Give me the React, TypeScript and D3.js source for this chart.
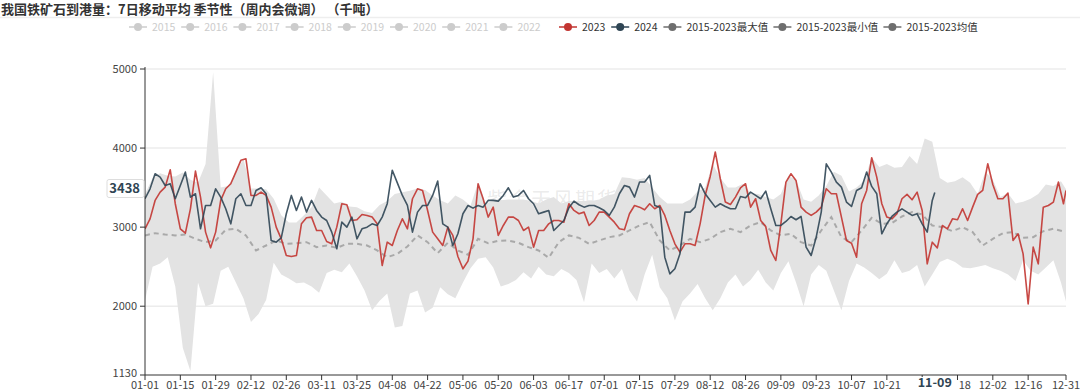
import React from 'react';
import * as d3 from 'd3';

// categories: every day of a leap year, shown as MM-DD
const categories: string[] = d3
  .timeDays(new Date(2024, 0, 1), new Date(2025, 0, 1))
  .map(d3.timeFormat('%m-%d'));

// day indices the series are sampled at
const sampleDays = (step: number, last: number) => {
  const out = d3.range(0, last + 1, step);
  if (out[out.length - 1] !== last) out.push(last);
  return out;
};

const days2023 = sampleDays(2, 365);
const days2024 = sampleDays(2, 313);
const daysBand = sampleDays(3, 365);
const daysMean = sampleDays(4, 364);

// 2023, every 2 days
const values2023 = [
  2979, 3105, 3338, 3443, 3506, 3726, 3296, 2979, 2924, 3232,
  3709, 3380, 2937, 2738, 2937, 3338, 3485, 3549, 3696, 3845,
  3865, 3401, 3401, 3443, 3401, 3253, 3000, 2852, 2641, 2629,
  2641, 3042, 3118, 3127, 2958, 2958, 2818, 2789, 3000, 3296,
  3283, 3084, 3093, 3160, 3148, 3127, 3042, 2515, 2810, 2768,
  2958, 3105, 2979, 3359, 3485, 3464, 3211, 2937, 2852, 2768,
  3000, 2895, 2629, 2473, 2570, 2852, 3549, 3359, 3127, 3253,
  2895, 3021, 3127, 3127, 3084, 2958, 3000, 2747, 2958, 2958,
  3042, 3084, 3084, 3063, 3296, 3211, 3169, 3190, 3021, 3084,
  3190, 3190, 3127, 3063, 2979, 2966, 3169, 3274, 3253, 3219,
  3296, 3232, 3274, 3148, 2958, 2789, 2684, 2789, 2789, 2768,
  3042, 3401, 3641, 3950, 3612, 3317, 3287, 3380, 3498, 3549,
  3253, 3359, 3084, 3008, 2705, 2578, 3042, 3570, 3675, 3591,
  3253, 3190, 3148, 3190, 3253, 3485, 3422, 3422, 3127, 2831,
  2797, 2620, 3296, 3464, 3878, 3633, 3296, 3127, 3105, 3169,
  3359, 3414, 3346, 3443, 3211, 2536, 2810, 2738, 3021, 2979,
  3105, 3093, 3232, 3084, 3253, 3414, 3464, 3802, 3540, 3359,
  3359, 3430, 2831, 2916, 2662, 2029, 2747, 2536, 3253, 3274,
  3317, 3570, 3296, 3464,
];

// 2024, every 2 days up to 11-09
const values2024 = [
  3359, 3485, 3675, 3633, 3527, 3549, 3359, 3527, 3696, 3380,
  3422, 2979, 3274, 3274, 3485, 3380, 3232, 3042, 3359, 3422,
  3274, 3274, 3464, 3498, 3422, 2831, 2810, 2865, 3169, 3401,
  3211, 3380, 3190, 3338, 3211, 3127, 3084, 2937, 2726, 3063,
  3000, 3127, 2852, 2979, 3000, 3042, 3021, 3127, 3296, 3720,
  3560, 3401, 3274, 2937, 3190, 3274, 3274, 3401, 3582, 3042,
  3000, 2768, 2916, 3169, 3274, 3240, 3274, 3253, 3338, 3338,
  3329, 3401, 3498, 3380, 3401, 3464, 3359, 3296, 3169, 3190,
  3211, 2958, 3021, 3084, 3245, 3329, 3283, 3253, 3274, 3274,
  3245, 3211, 3148, 3253, 3422, 3527, 3506, 3380, 3570, 3570,
  3654, 3274, 3253, 2620, 2409, 2473, 2662, 3190, 3190, 3253,
  3549, 3422, 3338, 3253, 3296, 3262, 3232, 3232, 3388, 3371,
  3443, 3401, 3359, 3456, 3232, 3021, 3021, 3072, 3135, 3093,
  3135, 2747, 2641, 2873, 3190, 3800, 3696, 3570, 3506, 3317,
  3262, 3464, 3498, 3696, 3515, 3422, 2916, 3042, 3135, 3190,
  3232, 3190, 3148, 3169, 3042, 2937, 3338, 3438,
];

// 2015-2023 max, every 3 days
const maxValues = [
  3420, 3620, 3680, 3650, 3640, 3690, 3600, 3560, 3800, 4960,
  3500, 3520, 3700, 3860, 3490, 3490, 3480, 3360, 3150, 3060,
  3060, 3150, 3250, 3500, 3400, 3300, 3320, 3260, 3250, 3200,
  3180, 3280, 3330, 3420, 3440, 3460, 3490, 3470, 3400, 3340,
  3300, 3400, 3350, 3270, 3560, 3300, 3330, 3340, 3350, 3350,
  3350, 3330, 3300, 3350, 3380, 3300, 3330, 3330, 3330, 3330,
  3350, 3400, 3420, 3630, 3620, 3600, 3620, 3500, 3380, 3300,
  3300, 3300, 3350, 3450, 3500, 3800, 3620, 3500, 3500, 3550,
  3430, 3420, 3380, 3350, 3420, 3650, 3600, 3350, 3320, 3400,
  3520, 3700, 3650, 3450, 3500, 3590, 3880, 3760, 3800, 3750,
  3760, 3900, 3800, 4120, 4080, 3620, 3560, 3580, 3630, 3560,
  3420, 3700, 3600, 3380, 3430, 3300, 3320, 3360, 3420, 3540,
  3520, 3580, 3480,
];

// 2015-2023 min, every 3 days
const minValues = [
  2072, 2500, 2540, 2620, 2250, 1470, 1180, 2300, 2000, 2030,
  2450, 2500, 2300, 2100, 1800, 1900, 2080, 2550, 2400, 2350,
  2290, 2300, 2250, 2170, 2420, 2460, 2430, 2540, 2380, 2200,
  1950, 2070, 2160, 1730, 1750, 2160, 2200, 1920, 1980, 2240,
  2150, 2100, 2300, 2480, 2600, 2620, 2490, 2250, 2280, 2330,
  2430, 2350, 2500, 2400, 2380, 2470, 2420, 2330, 2050, 2540,
  2420, 2470, 2350, 2470, 2200, 2060, 2400, 2650, 2240, 2100,
  1820, 2060, 2160, 2280, 2100, 1950, 2100, 2300, 2400, 2250,
  2330, 2460, 2300, 2200, 2420, 2570, 2300, 2000, 2400, 2520,
  2450, 2200, 1950, 2320, 2540, 2490, 2420, 2340, 2410, 2580,
  2420, 2450, 2520, 2250, 2400, 2560, 2600, 2560, 2490, 2480,
  2500, 2520, 2480, 2450, 2400, 2320, 2580, 2450, 2400, 2490,
  2580, 2300, 2060,
];

// 2015-2023 mean, every 4 days
const meanValues = [
  2895, 2924, 2907, 2895, 2907, 2852, 2810, 2831, 2966, 2979,
  2895, 2705, 2768, 2831, 2789, 2797, 2810, 2747, 2768, 2738,
  2789, 2789, 2768, 2705, 2620, 2662, 2755, 2895, 2810, 2671,
  2802, 2705, 2650, 2852, 2797, 2827, 2831, 2802, 2747, 2705,
  2612, 2810, 2895, 2865, 2789, 2831, 2873, 2895, 2958, 3021,
  3063, 2831, 2705, 2768, 2852, 2810, 2852, 2937, 2979, 2937,
  3021, 3063, 2958, 2895, 2916, 2810, 2768, 2958, 3127, 2873,
  2810, 2958, 3118, 3042, 3051, 3135, 3190, 3160, 3021, 3000,
  2949, 3000, 2937, 2768, 2852, 2924, 2937, 2865, 2873, 2949,
  2979, 2945,
];

const yTicks = [5000, 4000, 3000, 2000, 1130];
const xTickDays = [...d3.range(0, 351, 14), 365];
const pointerDay = 313;
const pointerValue = 3438;

const legendYears = ['2015', '2016', '2017', '2018', '2019', '2020', '2021', '2022'];
const legendActive = [
  { name: '2023', color: '#c23531' },
  { name: '2024', color: '#2f4554' },
  { name: '2015-2023最大值', color: '#6e6e6e' },
  { name: '2015-2023最小值', color: '#6e6e6e' },
  { name: '2015-2023均值', color: '#6e6e6e' },
];

const FONT = "'Noto Sans CJK SC', 'Noto Sans', sans-serif";

// rough text width for legend layout
const textWidth = (s: string) =>
  Array.from(s).reduce((w, c) => w + (/[0-9]/.test(c) ? 5.3 : c === '-' ? 3.6 : 11), 0);

export default function App() {
  const W = 1080;
  const H = 391;
  const left = 145;
  const right = 1066;
  const top = 69;
  const bottom = 375;

  const x = d3.scalePoint<string>().domain(categories).range([left, right]);
  const y = d3.scaleLinear().domain([1130, 5000]).range([bottom, top]);
  const px = (i: number) => x(categories[i]) as number;

  const pairs = (days: number[], vals: number[]) =>
    days.slice(0, vals.length).map((d, k) => [d, vals[k]] as [number, number]);

  const line = d3
    .line<[number, number]>()
    .x((d) => px(d[0]))
    .y((d) => y(d[1]));

  const band = daysBand.map((d, k) => [d, minValues[k], maxValues[k]] as [number, number, number]);
  const area = d3
    .area<[number, number, number]>()
    .x((d) => px(d[0]))
    .y0((d) => y(d[1]))
    .y1((d) => y(d[2]));

  // legend layout
  const legendItems: { name: string; color: string; text: string; x: number }[] = [];
  let lx = 129;
  legendYears.forEach((name) => {
    legendItems.push({ name, color: '#ccc', text: '#ccc', x: lx });
    lx += 23 + textWidth(name) + 8;
  });
  lx = 559;
  legendActive.forEach((it) => {
    legendItems.push({ name: it.name, color: it.color, text: '#333', x: lx });
    lx += 23 + textWidth(it.name) + 8;
  });

  const py = y(pointerValue) - 4;
  const pxp = px(pointerDay);
  const boxL = pxp - 19;
  const boxR = pxp + 19;

  // x labels: ones hidden under the pointer label are dropped, the one
  // partly under it shows only its visible tail (as in the source chart)
  const xLabels = xTickDays
    .map((d) => {
      const cx = px(d);
      const full = categories[d];
      const half = 13.5;
      if (cx - half >= boxL - 2 && cx + half <= boxR + 2) return null;
      if (cx - half < boxR && cx + half > boxR) {
        return { d, text: full.slice(3), x: cx + half, anchor: 'end' };
      }
      if (cx + half > boxL && cx - half < boxL) return null;
      return { d, text: full, x: cx, anchor: 'middle' };
    })
    .filter(Boolean) as { d: number; text: string; x: number; anchor: string }[];

  return (
    <svg
      width={W}
      height={H}
      style={{ position: 'fixed', left: 0, top: 0, background: '#fff' }}
      fontFamily={FONT}
    >
      <defs>
        <clipPath id="plot">
          <rect x={left} y={top - 10} width={right - left} height={bottom - top + 10} />
        </clipPath>
      </defs>

      <text x={1} y={13.5} fontSize={13} fontWeight="bold" fill="#333">
        我国铁矿石到港量：7日移动平均 季节性（周内会微调） （千吨）
      </text>
      <line x1={0} x2={W} y1={17.5} y2={17.5} stroke="#eee" strokeWidth={1.5} />

      {legendItems.map((it) => (
        <g key={it.name}>
          <line x1={it.x} x2={it.x + 18} y1={27} y2={27} stroke={it.color} strokeWidth={1.5} />
          <circle cx={it.x + 9} cy={27} r={4} fill={it.color} />
          <text x={it.x + 23} y={27} dy="0.35em" fontSize={10.5} fill={it.text}>
            {it.name}
          </text>
        </g>
      ))}

      {yTicks.slice(0, 4).map((t) => (
        <line key={t} x1={left} x2={right} y1={y(t)} y2={y(t)} stroke="#ececec" strokeWidth={1.5} />
      ))}

      <text
        x={553}
        y={207}
        textAnchor="middle"
        fontSize={20}
        fill="#888"
        fillOpacity={0.18}
        letterSpacing={2}
      >
        紫金天风期货
      </text>

      <g clipPath="url(#plot)">
        <path d={area(band) ?? ''} fill="#e3e3e3" />
        <path
          d={line(pairs(daysMean, meanValues)) ?? ''}
          fill="none"
          stroke="#a9a9a9"
          strokeWidth={2}
          strokeDasharray="5 4"
        />
        <path d={line(pairs(days2023, values2023)) ?? ''} fill="none" stroke="#c23531" strokeWidth={1.6} strokeOpacity={0.9} strokeLinejoin="round" />
        <path d={line(pairs(days2024, values2024)) ?? ''} fill="none" stroke="#2f4554" strokeWidth={1.6} strokeOpacity={0.9} strokeLinejoin="round" />
      </g>

      {/* y axis */}
      <line x1={left} x2={left} y1={top - 2} y2={bottom} stroke="#333" />
      {yTicks.map((t) => (
        <g key={t}>
          <line x1={left - 5} x2={left} y1={y(t)} y2={y(t)} stroke="#333" />
          <text
            x={left - 8}
            y={t === 1130 ? y(t) - 2 : y(t)}
            dy="0.35em"
            textAnchor="end"
            fontSize={11}
            fill="#444"
          >
            {t}
          </text>
        </g>
      ))}

      {/* x axis */}
      <line x1={left} x2={right} y1={bottom} y2={bottom} stroke="#333" />
      {xTickDays.map((d) => (
        <line key={d} x1={px(d)} x2={px(d)} y1={bottom} y2={bottom + 5} stroke="#333" />
      ))}
      {xLabels.map((l) => (
        <text key={l.d} x={l.x} y={385} dy="0.35em" textAnchor={l.anchor} fontSize={11} fill="#444">
          {l.text}
        </text>
      ))}

      {/* pointer labels */}
      <rect x={107} y={py - 9} width={37} height={18} rx={2} fill="#fff" stroke="#ddd" />
      <text x={140} y={py} dy="0.35em" textAnchor="end" fontSize={13} fontWeight="bold" fill="#2f4554">
        {pointerValue}
      </text>
      <rect x={boxL} y={377} width={boxR - boxL} height={14} fill="#fff" />
      <text x={pxp} y={382.5} dy="0.35em" textAnchor="middle" fontSize={12.5} fontWeight="bold" fill="#2f4554">
        {categories[pointerDay]}
      </text>
    </svg>
  );
}
